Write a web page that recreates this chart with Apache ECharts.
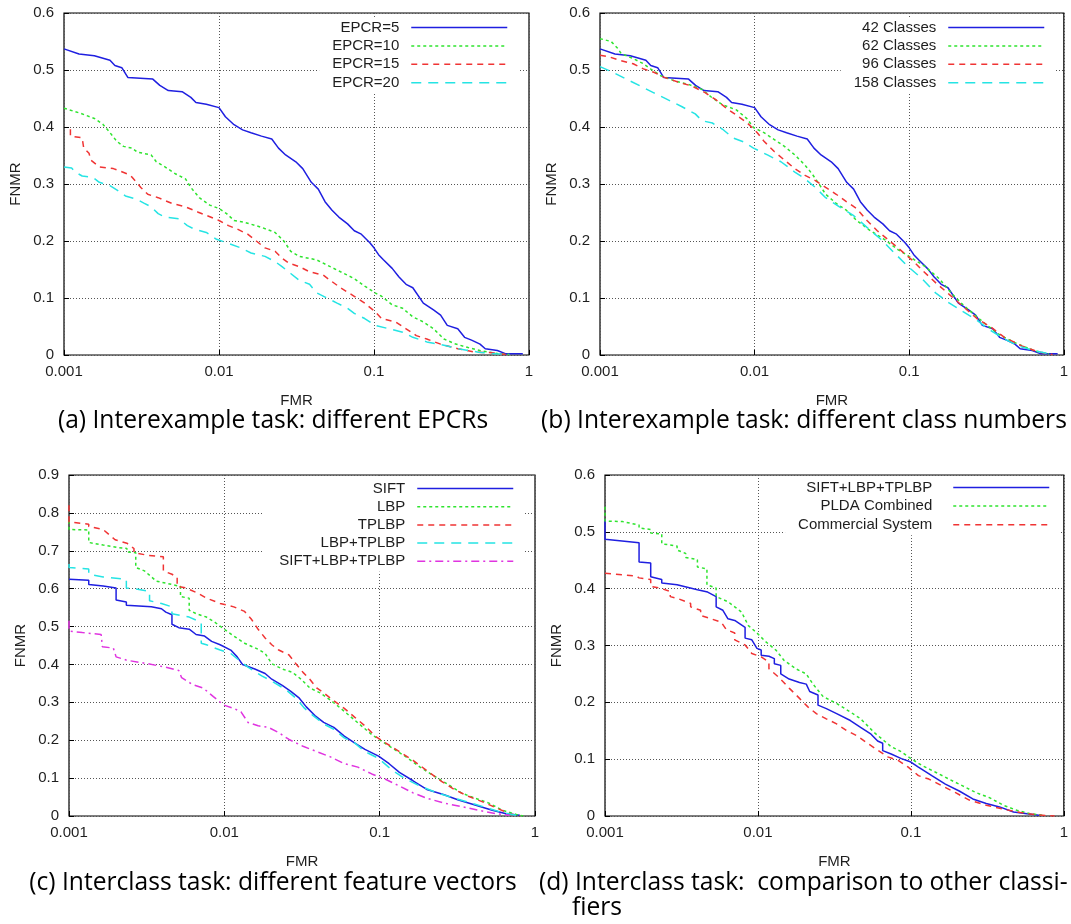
<!DOCTYPE html>
<html>
<head>
<meta charset="utf-8">
<script src="https://cdn.jsdelivr.net/npm/echarts@6/dist/echarts.min.js"></script>
<style>
  html, body { margin: 0; padding: 0; background: #fff; }
  #chart { width: 1071px; height: 924px; }
</style>
</head>
<body>
<div id="chart"></div>
<script>
// tick labels
const fmrTicks = ['0.001', '0.01', '0.1', '1']
const fnmrTicks6 = ['0', '0.1', '0.2', '0.3', '0.4', '0.5', '0.6']
const fnmrTicks9 = ['0', '0.1', '0.2', '0.3', '0.4', '0.5', '0.6', '0.7', '0.8', '0.9']

// (a) interexample, EPCR  -- [FMR, FNMR]
const epcr5 = [[0.001,0.537],[0.00125,0.528],[0.00157,0.525],[0.00198,0.517],[0.00213,0.508],[0.00236,0.504],[0.00258,0.487],[0.00374,0.484],[0.00415,0.473],[0.00471,0.464],[0.00578,0.462],[0.00658,0.452],[0.0071,0.443],[0.00828,0.44],[0.01,0.434],[0.011,0.418],[0.0125,0.404],[0.0142,0.395],[0.0161,0.39],[0.0188,0.384],[0.0219,0.379],[0.0242,0.363],[0.0269,0.351],[0.0313,0.339],[0.0347,0.327],[0.0394,0.303],[0.0437,0.291],[0.0483,0.269],[0.0536,0.254],[0.0593,0.242],[0.0675,0.23],[0.0746,0.218],[0.0828,0.212],[0.094,0.197],[0.1,0.188],[0.107,0.176],[0.115,0.167],[0.131,0.152],[0.145,0.137],[0.161,0.124],[0.178,0.118],[0.208,0.091],[0.242,0.079],[0.269,0.07],[0.297,0.052],[0.347,0.046],[0.384,0.031],[0.426,0.026],[0.483,0.019],[0.522,0.011],[0.625,0.008],[0.71,0.002],[0.912,0.002]]
const epcr10 = [[0.001,0.433],[0.00128,0.424],[0.00157,0.415],[0.00178,0.405],[0.00198,0.39],[0.00219,0.375],[0.00242,0.366],[0.00275,0.363],[0.00297,0.356],[0.00365,0.351],[0.00394,0.339],[0.00448,0.33],[0.00522,0.318],[0.00608,0.309],[0.00658,0.294],[0.00746,0.276],[0.00871,0.263],[0.01,0.257],[0.0112,0.248],[0.0125,0.236],[0.0145,0.233],[0.0188,0.224],[0.023,0.215],[0.0262,0.2],[0.029,0.182],[0.033,0.173],[0.0426,0.167],[0.0522,0.155],[0.0608,0.146],[0.0746,0.134],[0.0871,0.121],[0.1016,0.109],[0.112,0.103],[0.131,0.088],[0.153,0.082],[0.178,0.067],[0.208,0.058],[0.242,0.046],[0.283,0.028],[0.33,0.02],[0.405,0.013],[0.497,0.007],[0.641,0.002],[0.746,0.001]]
const epcr15 = [[0.0011,0.396],[0.0011,0.384],[0.00131,0.381],[0.00134,0.363],[0.00145,0.354],[0.00149,0.342],[0.00169,0.33],[0.00208,0.327],[0.00255,0.318],[0.00275,0.312],[0.00313,0.294],[0.00347,0.282],[0.00405,0.276],[0.00497,0.266],[0.00608,0.26],[0.00728,0.251],[0.00828,0.245],[0.01,0.236],[0.0115,0.227],[0.0131,0.221],[0.0153,0.212],[0.0174,0.2],[0.0198,0.188],[0.023,0.182],[0.0255,0.17],[0.0283,0.161],[0.033,0.155],[0.0384,0.146],[0.0471,0.14],[0.0522,0.131],[0.0608,0.118],[0.0746,0.103],[0.0871,0.091],[0.1016,0.076],[0.112,0.064],[0.138,0.058],[0.161,0.046],[0.1875,0.034],[0.219,0.028],[0.269,0.019],[0.347,0.011],[0.448,0.005],[0.578,0.004],[0.71,0.001]]
const epcr20 = [[0.001,0.33],[0.00112,0.328],[0.00118,0.321],[0.00131,0.314],[0.00153,0.312],[0.00169,0.303],[0.00198,0.297],[0.00224,0.288],[0.00249,0.279],[0.0029,0.274],[0.0033,0.266],[0.00365,0.26],[0.00405,0.248],[0.00448,0.242],[0.0055,0.239],[0.00625,0.227],[0.00692,0.221],[0.00828,0.215],[0.00964,0.203],[0.0112,0.197],[0.0138,0.188],[0.0161,0.179],[0.0198,0.173],[0.023,0.164],[0.0255,0.155],[0.029,0.143],[0.033,0.131],[0.0384,0.124],[0.0426,0.109],[0.0497,0.1],[0.0578,0.091],[0.0675,0.082],[0.0746,0.073],[0.0871,0.064],[0.1016,0.052],[0.125,0.046],[0.153,0.04],[0.178,0.031],[0.219,0.023],[0.283,0.017],[0.365,0.01],[0.471,0.005],[0.608,0.002],[0.746,0.001]]

// (b) interexample, class numbers (42 classes is the same run as EPCR=5)
const classes42 = epcr5
const classes62 = [[0.001,0.555],[0.00118,0.55],[0.0013,0.538],[0.00137,0.529],[0.00164,0.52],[0.00191,0.511],[0.00212,0.502],[0.00247,0.49],[0.00303,0.481],[0.00372,0.475],[0.00457,0.466],[0.00533,0.451],[0.00621,0.439],[0.00762,0.43],[0.00889,0.415],[0.00984,0.399],[0.0115,0.39],[0.0134,0.378],[0.0156,0.366],[0.0182,0.351],[0.0212,0.333],[0.0235,0.318],[0.0261,0.3],[0.0288,0.282],[0.0337,0.266],[0.0392,0.254],[0.0457,0.236],[0.0561,0.218],[0.0689,0.203],[0.0845,0.185],[0.104,0.17],[0.127,0.155],[0.156,0.134],[0.191,0.106],[0.223,0.088],[0.274,0.067],[0.319,0.052],[0.392,0.034],[0.506,0.019],[0.655,0.007],[0.8,0.002]]
const classes96 = [[0.001,0.526],[0.00115,0.523],[0.00134,0.517],[0.00164,0.511],[0.00191,0.502],[0.00223,0.496],[0.00261,0.487],[0.00319,0.479],[0.00392,0.472],[0.00481,0.46],[0.00561,0.448],[0.00655,0.433],[0.00762,0.421],[0.00889,0.408],[0.0104,0.39],[0.0115,0.375],[0.0134,0.357],[0.0156,0.342],[0.0182,0.327],[0.0212,0.315],[0.0247,0.306],[0.0288,0.294],[0.0337,0.282],[0.0392,0.269],[0.0457,0.257],[0.0533,0.236],[0.0621,0.218],[0.0724,0.203],[0.0845,0.188],[0.104,0.167],[0.121,0.149],[0.148,0.127],[0.182,0.106],[0.223,0.085],[0.274,0.064],[0.337,0.049],[0.413,0.031],[0.533,0.016],[0.689,0.005],[0.845,0.001]]
const classes158 = [[0.001,0.506],[0.00121,0.496],[0.00148,0.484],[0.00182,0.472],[0.00223,0.46],[0.00274,0.448],[0.00337,0.436],[0.00413,0.423],[0.00457,0.411],[0.00533,0.407],[0.00621,0.396],[0.00724,0.381],[0.00845,0.374],[0.00984,0.363],[0.0121,0.351],[0.0148,0.339],[0.0182,0.321],[0.0212,0.309],[0.0247,0.294],[0.0288,0.276],[0.0354,0.26],[0.0435,0.245],[0.0533,0.224],[0.0655,0.203],[0.0802,0.179],[0.0984,0.155],[0.121,0.134],[0.148,0.109],[0.182,0.091],[0.223,0.076],[0.274,0.061],[0.337,0.043],[0.413,0.028],[0.506,0.016],[0.655,0.007],[0.845,0.001]]

// (c) interclass, feature vectors
const sift = [[0.001,0.625],[0.00134,0.622],[0.00134,0.611],[0.00166,0.607],[0.00201,0.602],[0.00201,0.57],[0.00234,0.565],[0.00234,0.556],[0.00339,0.552],[0.00394,0.547],[0.0042,0.538],[0.0046,0.531],[0.0046,0.506],[0.00509,0.497],[0.00594,0.493],[0.00658,0.479],[0.00746,0.475],[0.00828,0.461],[0.0094,0.452],[0.011,0.438],[0.0121,0.42],[0.0131,0.4],[0.0157,0.388],[0.0183,0.376],[0.0202,0.361],[0.0236,0.345],[0.0268,0.329],[0.0304,0.311],[0.0337,0.288],[0.0383,0.265],[0.0436,0.247],[0.0507,0.234],[0.0592,0.211],[0.0689,0.193],[0.0804,0.176],[0.0984,0.158],[0.115,0.138],[0.134,0.115],[0.164,0.093],[0.201,0.07],[0.26,0.056],[0.318,0.043],[0.411,0.029],[0.531,0.015],[0.652,0.006],[0.798,0.002]]
const lbp = [[0.001,0.779],[0.001,0.756],[0.00134,0.755],[0.00134,0.722],[0.00166,0.715],[0.00203,0.709],[0.00236,0.706],[0.00236,0.697],[0.00269,0.695],[0.00269,0.656],[0.00306,0.647],[0.00365,0.62],[0.0046,0.611],[0.00522,0.606],[0.00522,0.579],[0.00594,0.575],[0.00594,0.543],[0.00658,0.534],[0.00767,0.525],[0.00871,0.511],[0.01,0.493],[0.0115,0.475],[0.0135,0.456],[0.0165,0.44],[0.0183,0.429],[0.0202,0.402],[0.0236,0.388],[0.0275,0.379],[0.0312,0.361],[0.0355,0.338],[0.0413,0.325],[0.0482,0.306],[0.0562,0.284],[0.0655,0.261],[0.0763,0.238],[0.0889,0.215],[0.1035,0.197],[0.121,0.179],[0.148,0.156],[0.182,0.129],[0.223,0.106],[0.274,0.084],[0.335,0.061],[0.411,0.047],[0.505,0.034],[0.618,0.015],[0.759,0.004],[0.84,0]]
const tplbp = [[0.001,0.82],[0.001,0.776],[0.00134,0.77],[0.00134,0.764],[0.00166,0.756],[0.00198,0.729],[0.00236,0.72],[0.00262,0.706],[0.00262,0.695],[0.00322,0.688],[0.00405,0.684],[0.00405,0.647],[0.0046,0.638],[0.00497,0.63],[0.00497,0.606],[0.00565,0.602],[0.00676,0.588],[0.00767,0.575],[0.0094,0.561],[0.0115,0.552],[0.0135,0.54],[0.0149,0.52],[0.0165,0.493],[0.0183,0.47],[0.0202,0.452],[0.0224,0.438],[0.0261,0.425],[0.0289,0.402],[0.0321,0.379],[0.0355,0.361],[0.0393,0.338],[0.0436,0.325],[0.0507,0.304],[0.0592,0.284],[0.0689,0.261],[0.0804,0.238],[0.0935,0.211],[0.109,0.193],[0.134,0.17],[0.164,0.147],[0.201,0.12],[0.247,0.093],[0.303,0.07],[0.372,0.052],[0.456,0.038],[0.558,0.022],[0.686,0.006],[0.798,0]]
const lbpTplbp = [[0.001,0.665],[0.001,0.656],[0.00134,0.652],[0.00134,0.638],[0.00166,0.631],[0.00234,0.625],[0.00234,0.602],[0.0026,0.6],[0.0033,0.593],[0.0033,0.568],[0.00394,0.561],[0.0046,0.552],[0.0046,0.534],[0.00594,0.525],[0.0071,0.511],[0.0071,0.456],[0.00767,0.452],[0.0094,0.438],[0.011,0.429],[0.0121,0.415],[0.0142,0.393],[0.0174,0.37],[0.0202,0.356],[0.0248,0.334],[0.0289,0.311],[0.0329,0.284],[0.0373,0.265],[0.0436,0.243],[0.0507,0.229],[0.0592,0.206],[0.0689,0.193],[0.0804,0.17],[0.0984,0.152],[0.121,0.12],[0.148,0.097],[0.182,0.079],[0.234,0.061],[0.303,0.047],[0.391,0.034],[0.505,0.02],[0.618,0.009],[0.759,0.002]]
const siftLbpTplbp = [[0.001,0.515],[0.001,0.488],[0.00122,0.484],[0.00161,0.479],[0.00164,0.447],[0.00193,0.443],[0.00201,0.42],[0.00236,0.411],[0.0032,0.402],[0.00416,0.393],[0.00509,0.384],[0.00531,0.365],[0.00625,0.347],[0.0073,0.338],[0.0085,0.315],[0.0099,0.293],[0.0115,0.284],[0.0128,0.275],[0.0142,0.247],[0.0165,0.238],[0.0192,0.234],[0.0224,0.22],[0.0261,0.202],[0.0321,0.184],[0.0393,0.17],[0.0482,0.156],[0.0592,0.138],[0.0724,0.129],[0.0889,0.111],[0.109,0.097],[0.134,0.079],[0.164,0.061],[0.201,0.047],[0.26,0.034],[0.335,0.025],[0.433,0.015],[0.558,0.006],[0.686,0.002]]

// (d) interclass, other classifiers
const combined = [[0.001,0.522],[0.001,0.487],[0.00167,0.481],[0.00167,0.447],[0.00199,0.445],[0.00199,0.421],[0.00235,0.416],[0.00235,0.41],[0.00296,0.407],[0.00402,0.398],[0.00469,0.394],[0.00533,0.386],[0.00533,0.368],[0.0059,0.362],[0.00637,0.347],[0.00705,0.344],[0.00824,0.332],[0.00824,0.313],[0.00912,0.31],[0.00985,0.295],[0.0105,0.292],[0.0105,0.283],[0.0118,0.281],[0.0128,0.277],[0.0128,0.268],[0.0141,0.265],[0.0141,0.25],[0.016,0.241],[0.0187,0.235],[0.0207,0.232],[0.0218,0.219],[0.0247,0.213],[0.0247,0.195],[0.028,0.189],[0.0327,0.18],[0.0402,0.168],[0.0469,0.156],[0.0549,0.144],[0.0606,0.132],[0.0654,0.128],[0.0654,0.115],[0.0743,0.109],[0.0867,0.101],[0.1,0.095],[0.112,0.086],[0.137,0.071],[0.168,0.056],[0.207,0.044],[0.254,0.03],[0.311,0.022],[0.38,0.016],[0.469,0.007],[0.575,0.004],[0.707,0.001]]
const pldaCombined = [[0.001,0.544],[0.001,0.519],[0.0013,0.518],[0.0013,0.515],[0.00167,0.512],[0.00167,0.507],[0.00199,0.504],[0.00199,0.498],[0.00235,0.496],[0.00235,0.479],[0.00296,0.475],[0.00296,0.468],[0.00337,0.462],[0.00337,0.455],[0.00402,0.451],[0.00402,0.438],[0.00464,0.435],[0.00464,0.407],[0.00533,0.401],[0.00533,0.386],[0.00637,0.377],[0.00705,0.368],[0.0078,0.359],[0.00866,0.335],[0.00985,0.322],[0.0112,0.307],[0.0131,0.292],[0.0148,0.274],[0.0177,0.259],[0.0207,0.25],[0.0229,0.232],[0.0267,0.21],[0.0327,0.198],[0.0402,0.183],[0.0469,0.171],[0.052,0.159],[0.0575,0.147],[0.0671,0.132],[0.0743,0.122],[0.0867,0.113],[0.1,0.101],[0.118,0.089],[0.145,0.077],[0.177,0.065],[0.218,0.053],[0.267,0.041],[0.328,0.032],[0.402,0.019],[0.493,0.01],[0.605,0.004],[0.743,0.001]]
const commercial = [[0.001,0.427],[0.0016,0.422],[0.00167,0.419],[0.00199,0.416],[0.00199,0.404],[0.00229,0.401],[0.00267,0.395],[0.00267,0.386],[0.00296,0.383],[0.00363,0.374],[0.00363,0.368],[0.00422,0.362],[0.00422,0.353],[0.00494,0.347],[0.00575,0.341],[0.00621,0.328],[0.00705,0.322],[0.00705,0.31],[0.00824,0.301],[0.00912,0.286],[0.0105,0.28],[0.0118,0.271],[0.0118,0.259],[0.0137,0.244],[0.016,0.225],[0.0187,0.207],[0.0212,0.192],[0.0241,0.18],[0.028,0.171],[0.0327,0.162],[0.0382,0.15],[0.0446,0.141],[0.052,0.128],[0.0606,0.116],[0.0706,0.104],[0.0825,0.098],[0.0961,0.086],[0.112,0.071],[0.131,0.065],[0.16,0.053],[0.196,0.041],[0.241,0.028],[0.311,0.019],[0.402,0.012],[0.52,0.006],[0.671,0.002],[0.87,0]]

// gnuplot-like line types
const styles = {
  solid: { color: '#1f1fe0', type: 'solid' },
  dotted: { color: '#2fe42f', type: [3, 3] },
  dashed: { color: '#f03434', type: [6, 5] },
  longdash: { color: '#25e4e4', type: [10, 7] },
  dashdot: { color: '#e034e0', type: [8, 4, 2, 4] },
}

const FONT = 'Liberation Sans'
const TEXT = '#1e1e1e'

const panels = [
  {
    grid: { left: 64, top: 13, width: 465, height: 342 },
    yMax: 0.6, yTicks: fnmrTicks6,
    legend: { right: 553, top: 17, itemGap: 3.4, textGap: 7 },
    lines: [
      { name: 'EPCR=5', data: epcr5, style: 'solid' },
      { name: 'EPCR=10', data: epcr10, style: 'dotted' },
      { name: 'EPCR=15', data: epcr15, style: 'dashed' },
      { name: 'EPCR=20', data: epcr20, style: 'longdash' },
    ],
  },
  {
    grid: { left: 600, top: 13, width: 465, height: 342 },
    yMax: 0.6, yTicks: fnmrTicks6,
    legend: { right: 16, top: 17, itemGap: 3.4, textGap: 7 },
    lines: [
      { name: '42 Classes', data: classes42, style: 'solid' },
      { name: '62 Classes', data: classes62, style: 'dotted' },
      { name: '96 Classes', data: classes96, style: 'dashed' },
      { name: '158 Classes', data: classes158, style: 'longdash' },
    ],
  },
  {
    grid: { left: 69, top: 475, width: 466, height: 341 },
    yMax: 0.9, yTicks: fnmrTicks9,
    legend: { right: 547, top: 478, itemGap: 3.2, textGap: 7, padLeft: 16 },
    lines: [
      { name: 'SIFT', data: sift, style: 'solid' },
      { name: 'LBP', data: lbp, style: 'dotted' },
      { name: 'TPLBP', data: tplbp, style: 'dashed' },
      { name: 'LBP+TPLBP', data: lbpTplbp, style: 'longdash' },
      { name: 'SIFT+LBP+TPLBP', data: siftLbpTplbp, style: 'dashdot' },
    ],
  },
  {
    grid: { left: 605, top: 475, width: 465, height: 341 },
    yMax: 0.6, yTicks: fnmrTicks6,
    legend: { right: 11, top: 477, itemGap: 3.6, textGap: 16 },
    lines: [
      // zero-width space keeps this legend entry apart from panel (c)'s series
      { name: 'SIFT+LBP+TPLBP\u200b', data: combined, style: 'solid' },
      { name: 'PLDA Combined', data: pldaCombined, style: 'dotted' },
      { name: 'Commercial System', data: commercial, style: 'dashed' },
    ],
  },
]

const captions = [
  { text: '(a) Interexample task: different EPCRs', left: 273, top: 408, textAlign: 'center' },
  { text: '(b) Interexample task: different class numbers', left: 804, top: 408, textAlign: 'center' },
  { text: '(c) Interclass task: different feature vectors', left: 273, top: 870, textAlign: 'center' },
  { text: '(d) Interclass task:  comparison to other classi-', left: 539, top: 870, textAlign: 'left' },
  { text: 'fiers', left: 572, top: 895, textAlign: 'left' },
]

const gridLine = { show: true, lineStyle: { color: '#555', width: 1, type: [1, 2] } }
const axisText = { fontFamily: FONT, fontSize: 15, color: TEXT }

const option = {
  animation: false,
  backgroundColor: '#fff',
  title: captions.map((c) => ({
    text: c.text,
    left: c.left,
    top: c.top,
    textAlign: c.textAlign,
    padding: 0,
    textStyle: { fontFamily: 'Open Sans', fontSize: 24.6, fontWeight: 'normal', color: '#000' },
  })),
  grid: panels.map((p) => ({
    ...p.grid,
    show: true,
    borderColor: '#000',
    borderWidth: 1.2,
    backgroundColor: 'transparent',
  })),
  xAxis: panels.map((p, i) => ({
    type: 'log',
    logBase: 10,
    gridIndex: i,
    min: 0.001,
    max: 1,
    splitNumber: 3,
    name: 'FMR',
    nameLocation: 'middle',
    nameGap: 38,
    nameTextStyle: axisText,
    axisLine: { show: false },
    axisTick: { show: true, inside: true, length: 5, lineStyle: { color: '#000' } },
    minorTick: { show: false },
    axisLabel: { ...axisText, margin: 9, formatter: (v, idx) => fmrTicks[idx] },
    splitLine: gridLine,
  })),
  yAxis: panels.map((p, i) => ({
    type: 'value',
    gridIndex: i,
    min: 0,
    max: p.yMax,
    interval: 0.1,
    name: 'FNMR',
    nameLocation: 'middle',
    nameGap: 41,
    nameRotate: 90,
    nameTextStyle: axisText,
    axisLine: { show: false },
    axisTick: { show: true, inside: true, length: 5, lineStyle: { color: '#000' } },
    axisLabel: { ...axisText, margin: 10, formatter: (v, idx) => p.yTicks[idx] },
    splitLine: gridLine,
  })),
  legend: panels.map((p) => ({
    orient: 'vertical',
    right: p.legend.right,
    top: p.legend.top,
    align: 'right',
    padding: [3, 10, 3, p.legend.padLeft || 13],
    backgroundColor: '#fff',
    itemWidth: 96,
    itemHeight: 14,
    itemGap: p.legend.itemGap,
    selectedMode: false,
    itemStyle: { opacity: 0 },
    lineStyle: { width: 1.5 },
    textStyle: { ...axisText, padding: [0, p.legend.textGap, 0, 0] },
    data: p.lines.map((l) => l.name),
  })),
  series: panels.flatMap((p, i) =>
    p.lines.map((l) => ({
      type: 'line',
      name: l.name,
      xAxisIndex: i,
      yAxisIndex: i,
      data: l.data,
      symbol: 'none',
      silent: true,
      clip: true,
      emphasis: { disabled: true },
      itemStyle: { color: styles[l.style].color },
      lineStyle: { color: styles[l.style].color, type: styles[l.style].type, width: 1.5 },
    }))
  ),
}

const chart = echarts.init(document.getElementById('chart'))
chart.setOption(option)
</script>
</body>
</html>
